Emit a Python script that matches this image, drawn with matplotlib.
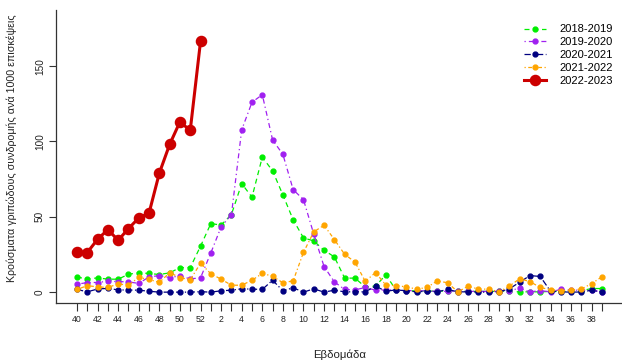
import matplotlib
matplotlib.use("Agg")
import matplotlib.pyplot as plt

plt.rcParams['font.family'] = ['Liberation Sans', 'DejaVu Sans']

weeks = [40, 41, 42, 43, 44, 45, 46, 47, 48, 49, 50, 51, 52] + list(range(1, 40))

s2018 = [10.1, 8.6, 9.5, 8.6, 8.6, 11.9, 12.8, 12.4, 11.7, 12.8, 16.3, 16.3, 30.5,
         45.5, 44.5, 51.5, 72.0, 63.0, 89.6, 80.5, 64.5, 48.0, 36.0, 34.0, 27.8, 23.4,
         9.3, 9.3, 3.5, 4.0, 11.5, 1.3, 1.0, 0.8, 0.8, 0.5, 1.0, 0.5, 0.5, 0.5,
         0.5, 0.5, 0.5, 0.2, 0.2, 0.2, 0.5, 0.5, 0.5, 1.0, 2.4, 2.4]
s2019 = [5.2, 6.4, 6.4, 7.3, 7.0, 6.8, 5.8, 10.1, 11.0, 9.7, 10.8, 8.8, 9.5,
         26.0, 43.3, 51.4, 107.7, 126.0, 131.0, 101.0, 91.4, 68.0, 61.4, 38.5, 17.0, 6.8,
         1.8, 1.5, 3.1, 1.3, 1.5, 1.3, 1.0, 1.0, 0.8, 0.5, 0.5, 0.5, 0.5, 0.5,
         0.5, 0.5, 1.0, 2.6, 0.2, 1.0, 0.2, 1.8, 1.3, 1.3, 1.3, 0.2]
s2020 = [1.8, 0.2, 2.1, 2.5, 1.5, 1.4, 1.3, 0.6, 0.0, 0.0, 0.0, 0.0, 0.3,
         0.0, 0.9, 1.3, 2.2, 2.0, 1.8, 7.9, 0.9, 2.9, 0.0, 2.2, 0.0, 1.3,
         0.2, 0.2, 0.2, 4.0, 0.6, 1.5, 0.9, 0.2, 0.6, 0.2, 1.8, 0.2, 0.2, 0.0,
         0.0, 0.2, 2.2, 6.6, 11.0, 10.4, 0.6, 0.2, 0.0, 0.1, 1.3, 0.0]
s2021 = [1.8, 4.3, 3.5, 3.1, 5.5, 4.6, 9.8, 8.4, 6.5, 12.9, 9.7, 8.2, 19.2,
         12.2, 8.6, 4.6, 4.6, 7.9, 12.4, 10.6, 6.2, 7.5, 26.4, 40.0, 44.4, 34.9,
         25.1, 20.0, 7.2, 13.0, 4.7, 4.3, 3.5, 2.0, 3.1, 7.5, 6.2, 0.2, 4.0, 2.0,
         2.0, 0.2, 4.0, 8.9, 7.0, 3.1, 1.6, 1.0, 1.3, 2.1, 5.7, 10.2]
s2022 = [26.7, 26.3, 35.1, 41.5, 34.4, 42.2, 49.2, 52.5, 79.0, 98.0, 113.0, 107.3, 166.4]

x = list(range(1, len(weeks) + 1))
labels = [str(w) if i % 2 == 0 else '' for i, w in enumerate(weeks)]

fig = plt.figure(figsize=(6.22, 3.61), dpi=100)
ax = fig.add_axes([56/622, 1 - 303/361, 567/622, 293/361])

ax.plot(x, s2018, color='#00EE00', lw=0.9, ls=(0, (4, 3)), marker='o', ms=3.5, label='2018-2019')
ax.plot(x, s2019, color='#A020F0', lw=0.9, ls=(0, (1, 2.5, 4, 2.5)), marker='o', ms=3.5, label='2019-2020')
ax.plot(x, s2020, color='#000080', lw=0.9, ls=(0, (5, 2, 1, 2)), marker='o', ms=3.5, label='2020-2021')
ax.plot(x, s2021, color='#FFA500', lw=0.9, ls=(0, (1, 2, 3, 2)), marker='o', ms=3.5, label='2021-2022')
ax.plot(x[:len(s2022)], s2022, color='#CC0000', lw=2.2, ls='-', marker='o', ms=7.3, label='2022-2023')

n = len(x)
ext = 0.04 * (n - 1)
ax.set_xlim(1 - ext, n + ext)
ax.set_ylim(-7.2, 187.2)

ax.set_xticks(x)
ax.set_xticklabels(labels, fontsize=6.3)
ax.set_yticks([0, 50, 100, 150])
ax.set_yticklabels(['0', '50', '100', '150'], fontsize=7.2, rotation=90, va='center')
ax.tick_params(axis='x', length=6, width=0.8, pad=3, colors='#333333', labelcolor='#222222')
ax.tick_params(axis='y', length=5, width=0.8, pad=3, colors='#333333', labelcolor='#222222')

for side in ['top', 'right']:
    ax.spines[side].set_visible(False)
for side in ['left', 'bottom']:
    ax.spines[side].set_linewidth(0.9)
    ax.spines[side].set_color('#333333')

ax.set_xlabel('Εβδομάδα', fontsize=8.2, labelpad=18, color='#222222')
ax.set_ylabel('Κρούσματα γριπώδους συνδρομής ανά 1000 επισκέψεις', fontsize=7.7, color='#222222')
ax.yaxis.set_label_coords(-0.069, 0.53)

leg = ax.legend(loc='upper right', bbox_to_anchor=(1.0, 0.985), frameon=False, fontsize=8,
                handlelength=2.0, handletextpad=1.2, labelspacing=0.25)

fig.savefig('out.png', dpi=100)
